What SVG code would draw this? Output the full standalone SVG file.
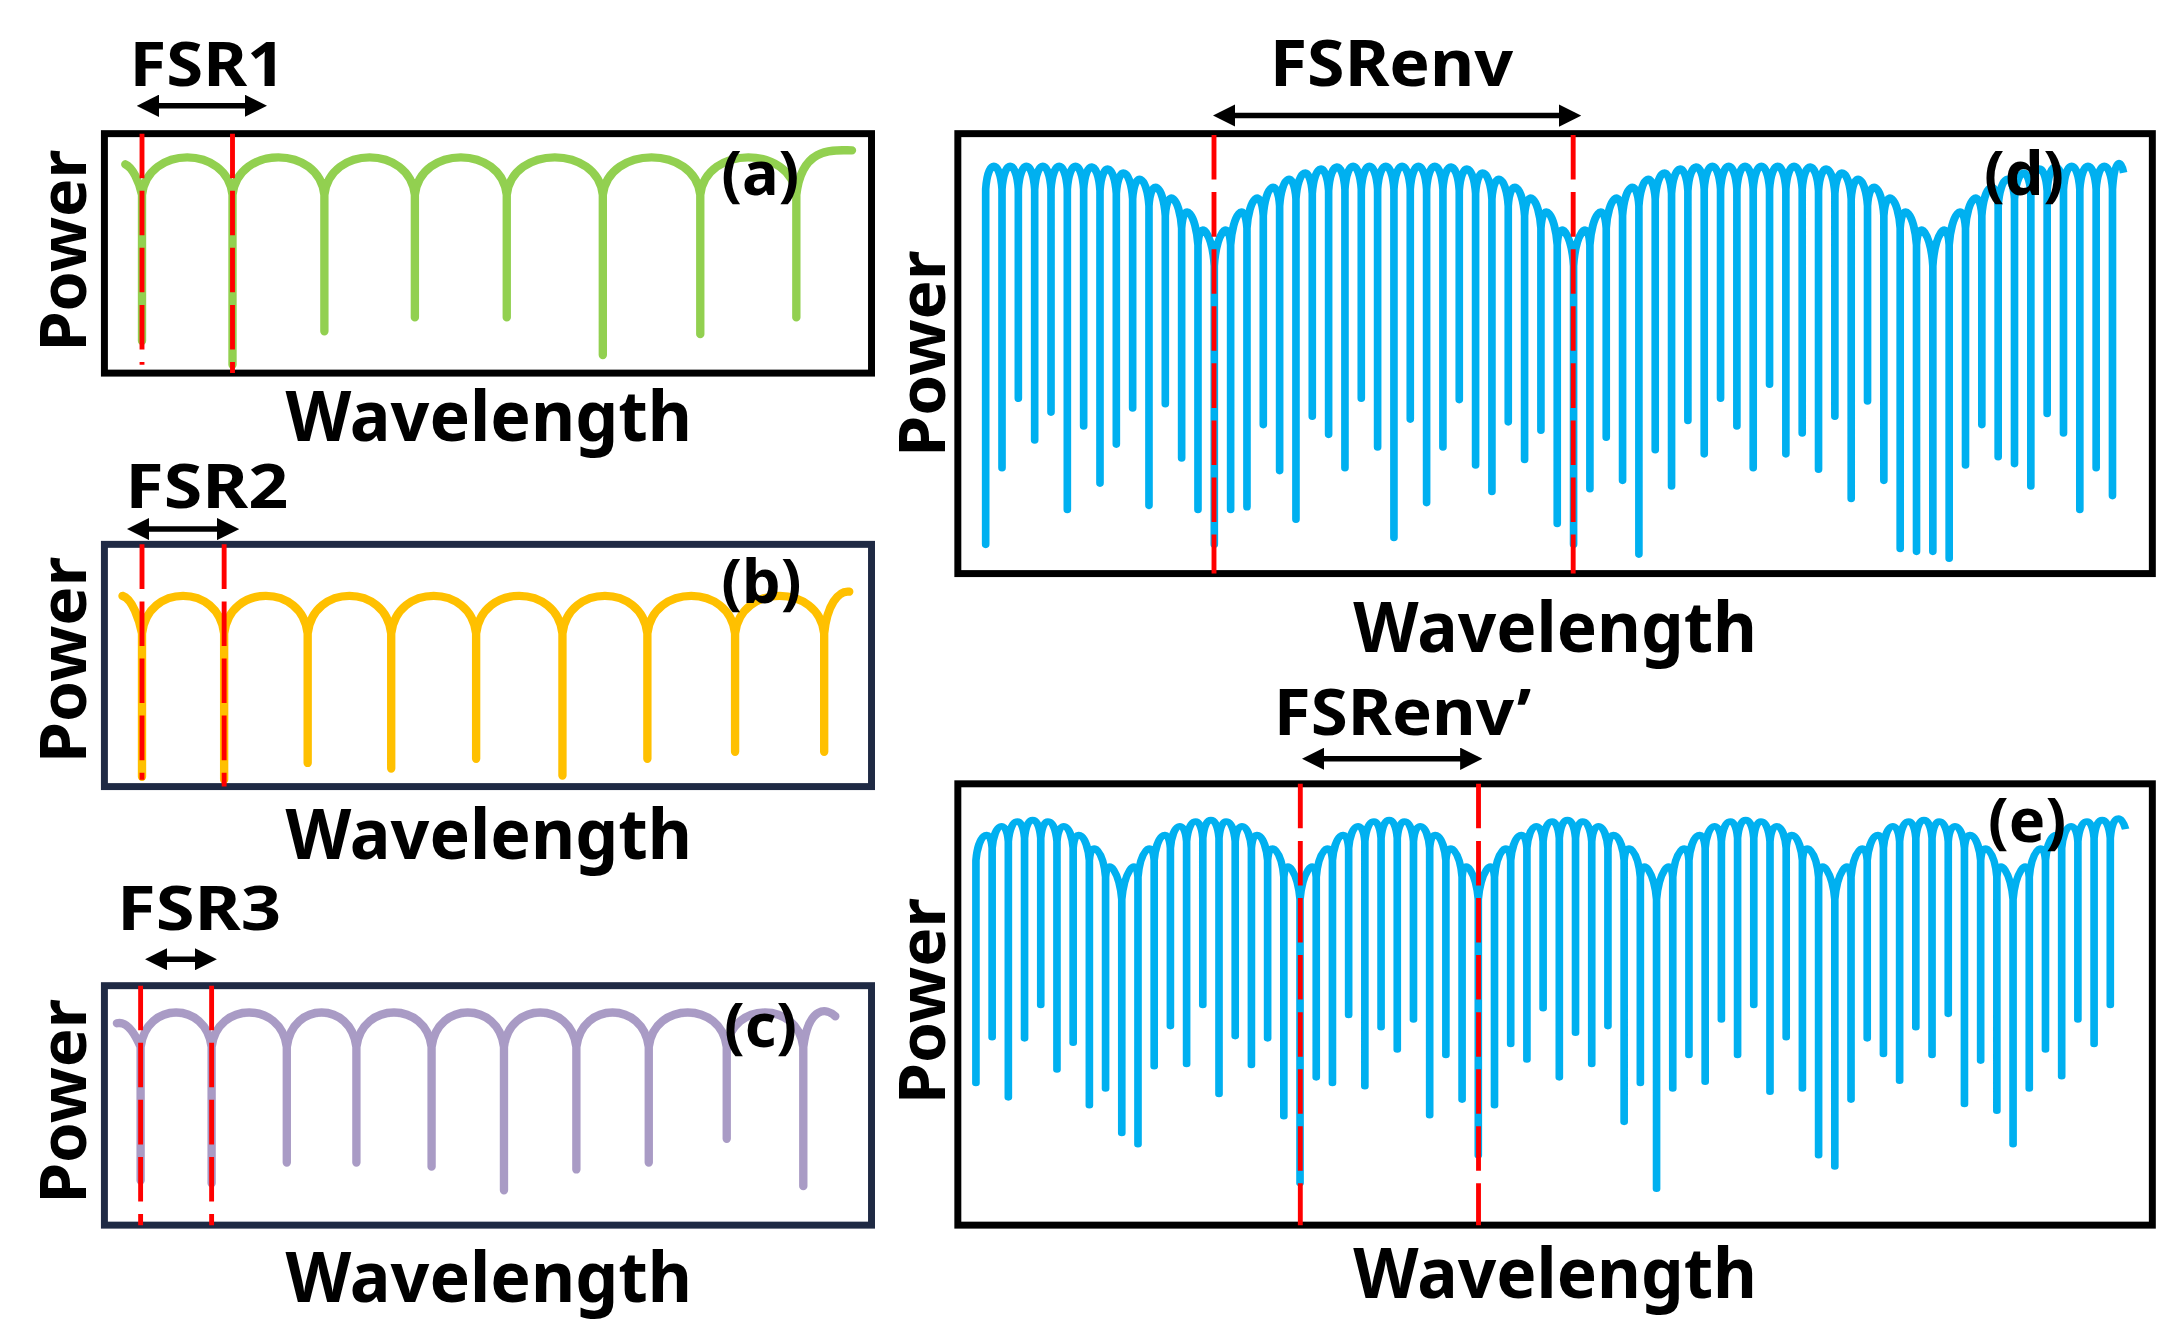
<svg xmlns="http://www.w3.org/2000/svg" width="2183" height="1338" viewBox="0 0 2183 1338">
<style>
text{font-family:"Noto Sans","Open Sans","Liberation Sans",sans-serif;font-weight:bold;fill:#000}
.frame{fill:none;stroke-width:5}
.red{stroke:#FF0000;stroke-width:3.5;stroke-dasharray:32 9;fill:none}
.sp{fill:none;stroke-width:6;stroke-linejoin:round;stroke-linecap:round}
.bl{fill:none;stroke:#00B0F0;stroke-width:5.5;stroke-linejoin:round}
.arr{stroke:#000;stroke-width:4;marker-start:url(#ah);marker-end:url(#ah)}
</style>
<defs>
<marker id="ah" viewBox="0 0 10 10" refX="7" refY="5" markerWidth="4" markerHeight="4" orient="auto-start-reverse"><path d="M0,0 L10,5 L0,10 Z" fill="#000"/></marker>
</defs>
<rect width="2183" height="1338" fill="#fff"/>
<g transform="scale(1.3922)">
<g id="panel-a">
<rect class="frame" x="75" y="96" width="551" height="172" stroke="#000"/>
<path class="sp" stroke="#92D050" d="M90,118 C95,120 100,130 102,140 V245 V140 C106,104 163,104 167,140 V262 V140 C171,104 229,104 233,140 V238 V140 C237,104 294,104 298,140 V228 V140 C302,104 360,104 364,140 V228 V140 C368,104 429,104 433,140 V255 V140 C437,104 499,104 503,140 V240 V140 C507,104 568,104 572,140 V228 V140 C576,104 600,108 612,108"/>
<line class="red" x1="102" y1="96" x2="102" y2="262"/><line class="red" x1="167" y1="96" x2="167" y2="268"/>
<text x="93" y="62" font-size="44" textLength="112" lengthAdjust="spacingAndGlyphs">FSR1</text>
<line class="arr" x1="103" y1="76" x2="187" y2="76"/>
<text x="518" y="140" font-size="44">(a)</text>
<text transform="translate(62,180) rotate(-90)" text-anchor="middle" font-size="46" textLength="145" lengthAdjust="spacingAndGlyphs">Power</text>
<text x="205" y="317" font-size="50" textLength="292" lengthAdjust="spacingAndGlyphs">Wavelength</text>
</g>
<g id="panel-b">
<rect class="frame" x="75" y="391" width="551" height="174" stroke="#1F2A44"/>
<path class="sp" stroke="#FFC000" d="M88,428 C95,430 100,445 102,455 V558 V455 C106,419 157,419 161,455 V560 V455 C165,419 217,419 221,455 V548 V455 C225,419 277,419 281,455 V552 V455 C285,419 338,419 342,455 V545 V455 C346,419 400,419 404,455 V557 V455 C408,419 461,419 465,455 V545 V455 C469,419 524,419 528,455 V540 V455 C532,419 588,419 592,455 V540 V455 C594,435 602,424 610,425"/>
<line class="red" x1="102" y1="391" x2="102" y2="560"/><line class="red" x1="161" y1="391" x2="161" y2="565"/>
<text x="90" y="365" font-size="44" textLength="117" lengthAdjust="spacingAndGlyphs">FSR2</text>
<line class="arr" x1="96" y1="380" x2="167" y2="380"/>
<text x="518" y="433" font-size="44">(b)</text>
<text transform="translate(62,474) rotate(-90)" text-anchor="middle" font-size="46" textLength="148" lengthAdjust="spacingAndGlyphs">Power</text>
<text x="205" y="617" font-size="50" textLength="292" lengthAdjust="spacingAndGlyphs">Wavelength</text>
</g>
<g id="panel-c">
<rect class="frame" x="75" y="708" width="551" height="172" stroke="#1F2A44"/>
<path class="sp" stroke="#A99BC5" d="M84,735 C92,733 98,745 101,752 V848 V752 C105,719 148,719 152,752 V850 V752 C156,719 202,719 206,752 V835 V752 C210,719 252,719 256,752 V835 V752 C260,719 306,719 310,752 V838 V752 C314,719 358,719 362,752 V855 V752 C366,719 410,719 414,752 V840 V752 C418,719 462,719 466,752 V835 V752 C470,719 518,719 522,752 V818 V752 C526,719 573,719 577,752 V852 V752 C581,722 594,724 600,730"/>
<line class="red" x1="101" y1="708" x2="101" y2="880"/><line class="red" x1="152" y1="708" x2="152" y2="880"/>
<text x="84" y="668" font-size="44" textLength="118" lengthAdjust="spacingAndGlyphs">FSR3</text>
<line class="arr" x1="109" y1="689" x2="151" y2="689"/>
<text x="520" y="752" font-size="44">(c)</text>
<text transform="translate(62,791) rotate(-90)" text-anchor="middle" font-size="46" textLength="147" lengthAdjust="spacingAndGlyphs">Power</text>
<text x="205" y="935" font-size="50" textLength="292" lengthAdjust="spacingAndGlyphs">Wavelength</text>
</g>
<g id="panel-d">
<rect class="frame" x="688" y="96" width="858" height="316" stroke="#000"/>
<path class="bl" d="M708,136
v255v-255c1.5,-22 10.23,-22 11.73,0 v200v-200c1.5,-22 10.23,-22 11.73,0 v150v-150c1.5,-22 10.23,-22 11.73,0 v180v-180c1.5,-22 10.23,-22 11.73,0 v160v-160c1.5,-22 10.23,-22 11.73,0 v230v-230c1.5,-22 10.23,-22 11.73,0
v170v-170c1.5,-22 10.23,-21 11.73,1 v210v-210c1.5,-22 10.23,-20 11.73,2 v180v-180c1.5,-22 10.23,-18 11.73,4 v150v-150c1.5,-22 10.23,-17 11.73,5 v215v-215c1.5,-22 10.23,-15 11.73,7 v135v-135c1.5,-22 10.23,-13 11.73,9 v165v-165c1.5,-22 10.23,-10 11.73,12 v190v-190c1.5,-22 10.23,-7 11.73,15
v200v-200c1.5,-22 10.23,-37 11.73,-15 v190v-190c1.5,-22 10.23,-34 11.73,-12 v200v-200c1.5,-22 10.23,-31 11.73,-9 v150v-150c1.5,-22 10.23,-29 11.73,-7 v190v-190c1.5,-22 10.23,-27 11.73,-5 v230v-230c1.5,-22 10.23,-26 11.73,-4 v160v-160c1.5,-22 10.23,-24 11.73,-2 v175v-175c1.5,-22 10.23,-23 11.73,-1
v200v-200c1.5,-22 10.23,-22 11.73,0 v150v-150c1.5,-22 10.23,-22 11.73,0 v185v-185c1.5,-22 10.23,-22 11.73,0 v250v-250c1.5,-22 10.23,-22 11.73,0 v165v-165c1.5,-22 10.23,-22 11.73,0 v225v-225c1.5,-22 10.23,-22 11.73,0
v185v-185c1.5,-22 10.23,-21 11.73,1 v150v-150c1.5,-22 10.23,-20 11.73,2 v195v-195c1.5,-22 10.23,-18 11.73,4 v210v-210c1.5,-22 10.23,-17 11.73,5 v155v-155c1.5,-22 10.23,-15 11.73,7 v175v-175c1.5,-22 10.23,-13 11.73,9 v145v-145c1.5,-22 10.23,-10 11.73,12 v200v-200c1.5,-22 10.23,-7 11.73,15
v200v-200c1.5,-22 10.23,-37 11.73,-15 v175v-175c1.5,-22 10.23,-34 11.73,-12 v150v-150c1.5,-22 10.23,-31 11.73,-9 v190v-190c1.5,-22 10.23,-29 11.73,-7 v250v-250c1.5,-22 10.23,-27 11.73,-5 v180v-180c1.5,-22 10.23,-26 11.73,-4 v210v-210c1.5,-22 10.23,-24 11.73,-2 v165v-165c1.5,-22 10.23,-23 11.73,-1
v190v-190c1.5,-22 10.23,-22 11.73,0 v150v-150c1.5,-22 10.23,-22 11.73,0 v170v-170c1.5,-22 10.23,-22 11.73,0 v200v-200c1.5,-22 10.23,-22 11.73,0 v140v-140c1.5,-22 10.23,-22 11.73,0 v190v-190c1.5,-22 10.23,-22 11.73,0
v175v-175c1.5,-22 10.23,-21 11.73,1 v200v-200c1.5,-22 10.23,-20 11.73,2 v160v-160c1.5,-22 10.23,-18 11.73,4 v215v-215c1.5,-22 10.23,-17 11.73,5 v140v-140c1.5,-22 10.23,-15 11.73,7 v190v-190c1.5,-22 10.23,-13 11.73,9 v230v-230c1.5,-22 10.23,-10 11.73,12 v220v-220c1.5,-22 10.23,-7 11.73,15
v205v-205c1.5,-22 10.23,-37 11.73,-15 v225v-225c1.5,-22 10.23,-34 11.73,-12 v170v-170c1.5,-22 10.23,-31 11.73,-9 v150v-150c1.5,-22 10.23,-29 11.73,-7 v180v-180c1.5,-22 10.23,-27 11.73,-5 v190v-190c1.5,-22 10.23,-26 11.73,-4 v210v-210c1.5,-22 10.23,-24 11.73,-2 v160v-160c1.5,-22 10.23,-23 11.73,-1
v175v-175c1.5,-22 10.23,-22 11.73,0 v230v-230c1.5,-22 10.23,-22 11.73,0 v200v-200c1.5,-22 10.23,-22 11.73,0 v220v-220c1.5,-22 6,-22 8,-12"/>
<line class="red" x1="872" y1="97" x2="872" y2="412"/><line class="red" x1="1130" y1="97" x2="1130" y2="412"/>
<text x="912" y="62" font-size="46" textLength="175" lengthAdjust="spacingAndGlyphs">FSRenv</text>
<line class="arr" x1="876" y1="83" x2="1131" y2="83"/>
<text x="1425" y="140" font-size="44">(d)</text>
<text transform="translate(679,254) rotate(-90)" text-anchor="middle" font-size="46" textLength="148" lengthAdjust="spacingAndGlyphs">Power</text>
<text x="972" y="468" font-size="50" textLength="290" lengthAdjust="spacingAndGlyphs">Wavelength</text>
</g>
<g id="panel-e">
<rect class="frame" x="688" y="563" width="858" height="317" stroke="#000"/>
<path class="bl" transform="matrix(1,0,0,0.8,0,120.4)" d="M701,622
v200v-200c1.5,-22 10.14,-33 11.64,-11 v170v-170c1.5,-22 10.14,-28 11.64,-6 v230v-230c1.5,-22 10.14,-25 11.64,-3 v180v-180c1.5,-22 10.14,-22 11.64,0 v150v-150c1.5,-22 10.14,-19 11.64,3 v205v-205c1.5,-22 10.14,-16 11.64,6 v175v-175c1.5,-22 10.14,-11 11.64,11 v220v-220c1.5,-22 10.14,-7 11.64,15 v190v-190c1.5,-22 10.14,-2 11.64,20
v210v-210c1.5,-22 10.14,-42 11.64,-20 v240v-240c1.5,-22 10.14,-37 11.64,-15 v185v-185c1.5,-22 10.14,-33 11.64,-11 v160v-160c1.5,-22 10.14,-28 11.64,-6 v200v-200c1.5,-22 10.14,-25 11.64,-3 v150v-150c1.5,-22 10.14,-22 11.64,0 v230v-230c1.5,-22 10.14,-19 11.64,3 v175v-175c1.5,-22 10.14,-16 11.64,6 v195v-195c1.5,-22 10.14,-11 11.64,11 v160v-160c1.5,-22 10.14,-7 11.64,15 v215v-215c1.5,-22 10.14,-2 11.64,20
v255v-255c1.5,-22 10.14,-42 11.64,-20 v180v-180c1.5,-22 10.14,-37 11.64,-15 v200v-200c1.5,-22 10.14,-33 11.64,-11 v150v-150c1.5,-22 10.14,-28 11.64,-6 v220v-220c1.5,-22 10.14,-25 11.64,-3 v170v-170c1.5,-22 10.14,-22 11.64,0 v190v-190c1.5,-22 10.14,-19 11.64,3 v160v-160c1.5,-22 10.14,-16 11.64,6 v240v-240c1.5,-22 10.14,-11 11.64,11 v175v-175c1.5,-22 10.14,-7 11.64,15 v200v-200c1.5,-22 10.14,-2 11.64,20
v230v-230c1.5,-22 10.14,-42 11.64,-20 v205v-205c1.5,-22 10.14,-37 11.64,-15 v165v-165c1.5,-22 10.14,-33 11.64,-11 v190v-190c1.5,-22 10.14,-28 11.64,-6 v150v-150c1.5,-22 10.14,-25 11.64,-3 v215v-215c1.5,-22 10.14,-22 11.64,0 v175v-175c1.5,-22 10.14,-19 11.64,3 v200v-200c1.5,-22 10.14,-16 11.64,6 v160v-160c1.5,-22 10.14,-11 11.64,11 v235v-235c1.5,-22 10.14,-7 11.64,15 v185v-185c1.5,-22 10.14,-2 11.64,20
v260v-260c1.5,-22 10.14,-42 11.64,-20 v190v-190c1.5,-22 10.14,-37 11.64,-15 v175v-175c1.5,-22 10.14,-33 11.64,-11 v210v-210c1.5,-22 10.14,-28 11.64,-6 v160v-160c1.5,-22 10.14,-25 11.64,-3 v195v-195c1.5,-22 10.14,-22 11.64,0 v150v-150c1.5,-22 10.14,-19 11.64,3 v225v-225c1.5,-22 10.14,-16 11.64,6 v170v-170c1.5,-22 10.14,-11 11.64,11 v205v-205c1.5,-22 10.14,-7 11.64,15 v250v-250c1.5,-22 10.14,-2 11.64,20
v240v-240c1.5,-22 10.14,-42 11.64,-20 v200v-200c1.5,-22 10.14,-37 11.64,-15 v160v-160c1.5,-22 10.14,-33 11.64,-11 v185v-185c1.5,-22 10.14,-28 11.64,-6 v215v-215c1.5,-22 10.14,-25 11.64,-3 v170v-170c1.5,-22 10.14,-22 11.64,0 v195v-195c1.5,-22 10.14,-19 11.64,3 v155v-155c1.5,-22 10.14,-16 11.64,6 v230v-230c1.5,-22 10.14,-11 11.64,11 v180v-180c1.5,-22 10.14,-7 11.64,15 v210v-210c1.5,-22 10.14,-2 11.64,20
v220v-220c1.5,-22 10.14,-42 11.64,-20 v190v-190c1.5,-22 10.14,-37 11.64,-15 v170v-170c1.5,-22 10.14,-33 11.64,-11 v205v-205c1.5,-22 10.14,-28 11.64,-6 v160v-160c1.5,-22 10.14,-25 11.64,-3 v185v-185c1.5,-22 10.14,-22 11.64,0 v150v-150c1.5,-22 8,-22 11,-8"/>
<line class="red" x1="934" y1="563" x2="934" y2="880"/><line class="red" x1="1062" y1="563" x2="1062" y2="880"/>
<text x="915" y="528" font-size="46" textLength="185" lengthAdjust="spacingAndGlyphs">FSRenv’</text>
<line class="arr" x1="940" y1="545" x2="1060" y2="545"/>
<text x="1428" y="605" font-size="44">(e)</text>
<text transform="translate(679,719) rotate(-90)" text-anchor="middle" font-size="46" textLength="148" lengthAdjust="spacingAndGlyphs">Power</text>
<text x="972" y="932" font-size="50" textLength="290" lengthAdjust="spacingAndGlyphs">Wavelength</text>
</g>
</g>
</svg>
